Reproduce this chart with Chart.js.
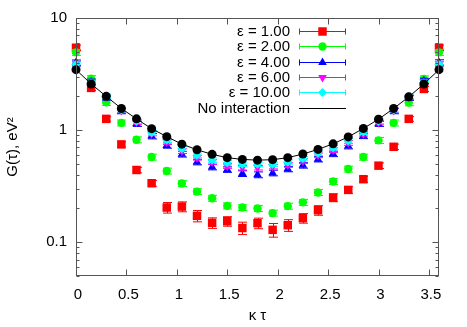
<!DOCTYPE html>
<html><head><meta charset="utf-8">
<script src="https://cdn.jsdelivr.net/npm/chart.js@4.4.0/dist/chart.umd.min.js"></script>
<style>html,body{margin:0;padding:0;background:#fff;}</style>
</head><body>
<canvas id="c" width="467" height="327" style="display:block;width:467px;height:327px"></canvas>
<script>
const kappaTau = [0,0.15,0.3,0.45,0.6,0.75,0.9,1.05,1.2,1.35,1.5,1.65,1.8,1.95,2.1,2.25,2.4,2.55,2.7,2.85,3.0,3.15,3.3,3.45,3.6];
const gEps1  = [5.43,2.38,1.26,0.746,0.441,0.336,0.204,0.208,0.172,0.149,0.154,0.134,0.148,0.129,0.142,0.164,0.193,0.25,0.293,0.365,0.482,0.71,1.26,2.33,5.43];
const gEps2  = [4.94,2.88,1.77,1.16,0.82,0.575,0.432,0.334,0.283,0.247,0.211,0.204,0.2,0.182,0.21,0.227,0.278,0.348,0.45,0.575,0.81,1.16,1.76,2.86,4.94];
const gEps4  = [4.0,2.7,1.95,1.48,1.14,0.885,0.73,0.61,0.52,0.469,0.445,0.41,0.40,0.415,0.45,0.485,0.55,0.615,0.72,0.89,1.14,1.48,1.94,2.75,4.02];
const gEps6  = [3.9,2.65,1.97,1.5,1.18,0.935,0.782,0.651,0.568,0.52,0.479,0.463,0.463,0.473,0.489,0.53,0.596,0.664,0.77,0.93,1.17,1.5,1.96,2.68,3.9];
const gEps10 = [3.85,2.65,2.0,1.52,1.2,0.948,0.815,0.683,0.596,0.541,0.513,0.496,0.496,0.496,0.52,0.557,0.621,0.698,0.8,0.96,1.2,1.52,2.0,2.65,3.85];
const gFree  = [3.46,2.58,2.0,1.56,1.26,1.03,0.875,0.75,0.668,0.608,0.568,0.548,0.54,0.545,0.568,0.612,0.673,0.755,0.87,1.035,1.25,1.56,1.98,2.58,3.46];
const errEps1  = [0.3,0.12,0.06,0.04,0.025,0.02,0.022,0.021,0.02,0.016,0.015,0.017,0.016,0.018,0.017,0.016,0.019,0.02,0.02,0.022,0.028,0.04,0.06,0.12,0.3];
const errEps2  = [0.3,0.18,0.11,0.07,0.05,0.035,0.026,0.02,0.017,0.015,0.013,0.012,0.012,0.011,0.013,0.014,0.017,0.021,0.027,0.035,0.05,0.07,0.11,0.18,0.3];
const errEps4  = [0.22,0.15,0.1,0.08,0.06,0.05,0.04,0.035,0.03,0.027,0.025,0.024,0.024,0.024,0.025,0.027,0.03,0.035,0.04,0.05,0.06,0.08,0.1,0.15,0.22];
const errEps6  = [0.2,0.13,0.09,0.07,0.055,0.045,0.038,0.032,0.028,0.025,0.023,0.022,0.022,0.022,0.023,0.025,0.028,0.032,0.038,0.045,0.055,0.07,0.09,0.13,0.2];
const errEps10 = [0.2,0.13,0.09,0.07,0.055,0.045,0.038,0.032,0.028,0.025,0.023,0.022,0.022,0.022,0.023,0.025,0.028,0.032,0.038,0.045,0.055,0.07,0.09,0.13,0.2];
const seriesLabels = ['ε = 1.00','ε = 2.00','ε = 4.00','ε = 6.00','ε = 10.00','No interaction'];
const xTickValues = [0,0.5,1,1.5,2,2.5,3,3.5];
const yTickValues = [0.1,1,10];
const yMinorValues = [0.05,0.06,0.07,0.08,0.09,0.2,0.3,0.4,0.5,0.6,0.7,0.8,0.9,2,3,4,5,6,7,8,9];

const FONT = "'Liberation Sans', Arial, Helvetica, sans-serif";
Chart.defaults.font.family = FONT;
Chart.defaults.font.size = 15;
Chart.defaults.color = '#000';

function pts(vals){ return kappaTau.map((x,i)=>({x:x,y:vals[i]})); }
function mk(label, vals, err, color, style, radius, rot, order){
  return {label:label, data:pts(vals), err:err, showLine:false, borderColor:color, backgroundColor:color,
    pointStyle:style, pointRadius:radius, pointRotation:rot, pointBorderWidth:0, order:order, clip:false};
}
const datasets = [
  mk(seriesLabels[0], gEps1, errEps1, '#ff0000', 'rect', 6, 0, 5),
  mk(seriesLabels[1], gEps2, errEps2, '#00ff00', 'circle', 4.2, 0, 4),
  mk(seriesLabels[2], gEps4, errEps4, '#0000ff', 'triangle', 5, 0, 3),
  mk(seriesLabels[3], gEps6, errEps6, '#ff00ff', 'triangle', 5, 180, 2),
  mk(seriesLabels[4], gEps10, errEps10, '#00ffff', 'rectRot', 4.5, 0, 1),
  {label:seriesLabels[5], data:pts(gFree), showLine:true, borderColor:'#000', backgroundColor:'#000',
   borderWidth:1, pointStyle:'circle', pointRadius:4.5, pointBorderWidth:0, order:0, clip:false}
];

const AXIS = '#555';
const frame = {
  id:'frame',
  beforeDatasetDraw(chart,args){
    const ds = chart.data.datasets[args.index];
    if(!ds.err) return;
    const ctx=chart.ctx, xs=chart.scales.x, ys=chart.scales.y, cap=4.5;
    ctx.save(); ctx.strokeStyle=ds.borderColor; ctx.lineWidth=1;
    ds.data.forEach((p,i)=>{
      const e=ds.err[i];
      const px=Math.round(xs.getPixelForValue(p.x))+0.5;
      const y1=ys.getPixelForValue(p.y+e), y2=ys.getPixelForValue(p.y-e);
      ctx.beginPath();
      ctx.moveTo(px,y1); ctx.lineTo(px,y2);
      ctx.moveTo(px-cap,y1); ctx.lineTo(px+cap,y1);
      ctx.moveTo(px-cap,y2); ctx.lineTo(px+cap,y2);
      ctx.stroke();
    });
    ctx.restore();
  },
  afterDraw(chart){
    const ctx=chart.ctx, a=chart.chartArea, xs=chart.scales.x, ys=chart.scales.y;
    ctx.save();
    ctx.strokeStyle=AXIS; ctx.lineWidth=1;
    const L=Math.round(a.left)+0.5, R=Math.round(a.right)-0.5, T=Math.round(a.top)+0.5, B=Math.round(a.bottom)-0.5;
    ctx.strokeRect(L,T,R-L,B-T);
    ctx.beginPath();
    xTickValues.forEach(v=>{ const x=Math.round(xs.getPixelForValue(v))+0.5;
      ctx.moveTo(x,B); ctx.lineTo(x,B-6); ctx.moveTo(x,T); ctx.lineTo(x,T+6); });
    yTickValues.forEach(v=>{ const y=Math.round(ys.getPixelForValue(v))+0.5;
      ctx.moveTo(L,y); ctx.lineTo(L+6,y); ctx.moveTo(R,y); ctx.lineTo(R-6,y); });
    yMinorValues.forEach(v=>{ const y=Math.round(ys.getPixelForValue(v))+0.5;
      ctx.moveTo(L,y); ctx.lineTo(L+3,y); ctx.moveTo(R,y); ctx.lineTo(R-3,y); });
    ctx.stroke();
    // legend
    const textX=290, x1=299, x2=346, mx=322.5, y0=31, dy=15.3;
    ctx.font='15px '+FONT; ctx.textAlign='right'; ctx.textBaseline='middle'; ctx.fillStyle='#000';
    chart.data.datasets.forEach((ds,i)=>{
      const y=Math.round(y0+i*dy)+0.5;
      ctx.fillStyle='#000';
      ctx.fillText(ds.label,textX,y);
      ctx.strokeStyle=ds.borderColor; ctx.fillStyle=ds.backgroundColor; ctx.lineWidth=1;
      ctx.beginPath(); ctx.moveTo(x1,y); ctx.lineTo(x2,y);
      if(ds.err){ ctx.moveTo(x1+0.5,y-3); ctx.lineTo(x1+0.5,y+3); ctx.moveTo(x2-0.5,y-3); ctx.lineTo(x2-0.5,y+3); }
      ctx.stroke();
      if(ds.err){
        Chart.helpers.drawPoint(ctx,{pointStyle:ds.pointStyle,radius:ds.pointRadius,rotation:ds.pointRotation,borderWidth:0},mx,y);
      }
    });
    ctx.restore();
  }
};

new Chart(document.getElementById('c'),{
  type:'scatter',
  data:{datasets:datasets},
  options:{
    responsive:false, animation:false, devicePixelRatio:1,
    layout:{padding:{top:18,right:28,left:0,bottom:0}},
    plugins:{legend:{display:false}, tooltip:{enabled:false}},
    scales:{
      x:{type:'linear', min:0, max:3.6,
        grid:{display:false, drawTicks:false}, border:{display:false},
        afterBuildTicks(s){ s.ticks = xTickValues.map(v=>({value:v})); },
        afterFit(s){ s.height = 51; },
        ticks:{padding:10, labelOffset:2, font:{size:15}, callback:v=>String(v)},
        title:{display:true, text:'κ τ', font:{size:15}, padding:{top:0,bottom:2}}
      },
      y:{type:'logarithmic', min:0.05, max:10,
        grid:{display:false, drawTicks:false}, border:{display:false},
        afterBuildTicks(s){ s.ticks = yTickValues.map(v=>({value:v})); },
        afterFit(s){ s.width = 76; },
        ticks:{padding:9, font:{size:15}, callback:v=>String(v)},
        title:{display:true, text:'G(τ), eV²', font:{size:15}, padding:{top:4,bottom:0}}
      }
    }
  },
  plugins:[frame]
});
</script>
</body></html>
